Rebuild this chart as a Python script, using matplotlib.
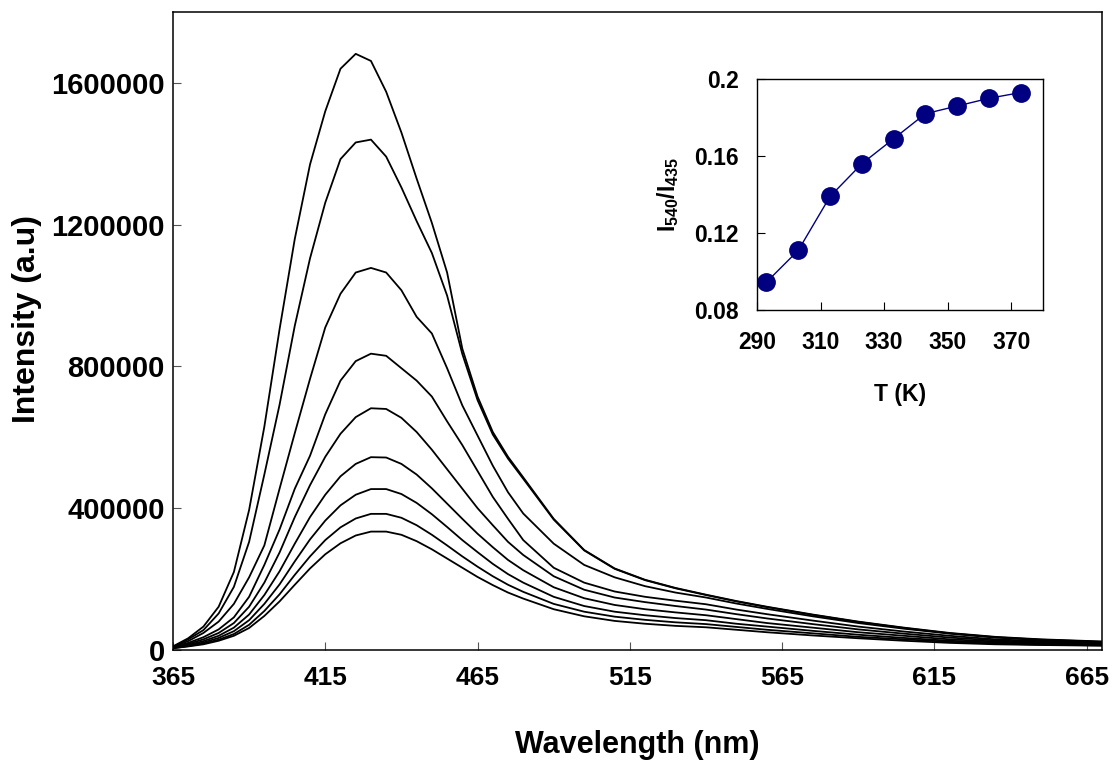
import matplotlib
matplotlib.use("Agg")
import matplotlib.pyplot as plt
from matplotlib.ticker import FixedLocator, FormatStrFormatter

plt.rcParams['font.family'] = ['Liberation Sans', 'DejaVu Sans']
plt.rcParams['font.weight'] = 'bold'
plt.rcParams['mathtext.fontset'] = 'custom'
plt.rcParams['mathtext.rm'] = 'Liberation Sans:bold'
plt.rcParams['mathtext.bf'] = 'Liberation Sans:bold'
plt.rcParams['mathtext.default'] = 'rm'

# emission spectra (intensity in units of 1000)
wavelength = [365, 370, 375, 380, 385, 390, 395, 400, 405, 410, 415, 420, 425,
              430, 435, 440, 445, 450, 455, 460, 465, 470, 475, 480, 490, 500,
              510, 520, 530, 540, 550, 560, 575, 590, 605, 620, 635, 650, 670]

spec_293 = [10, 33, 66, 122, 220, 395, 630, 905, 1160, 1370, 1520, 1640, 1682,
            1662, 1575, 1460, 1330, 1205, 1065, 850, 715, 615, 545, 487, 370, 282,
            230, 198, 175, 156, 138, 122, 100, 80, 63, 48, 37, 30, 24]
spec_303 = [9, 30, 56, 103, 178, 305, 495, 692, 915, 1105, 1262, 1385, 1432,
            1440, 1392, 1305, 1210, 1120, 1000, 835, 705, 608, 540, 483, 368, 281,
            229, 197, 174, 155, 137, 121, 99, 79, 62, 47, 36, 29, 23]
spec_313 = [9, 25, 48, 80, 130, 205, 295, 455, 612, 765, 910, 1005, 1065,
            1078, 1065, 1015, 940, 893, 795, 690, 605, 520, 445, 385, 300, 240,
            205, 180, 162, 148, 131, 116, 95, 76, 60, 46, 35, 28, 22]
spec_323 = [8, 20, 36, 58, 92, 150, 240, 340, 455, 548, 665, 760, 815,
            836, 830, 795, 760, 715, 645, 578, 505, 432, 370, 310, 232, 190,
            165, 150, 139, 129, 114, 101, 83, 66, 52, 40, 30, 25, 20]
spec_333 = [7, 17, 30, 48, 76, 122, 190, 275, 375, 465, 545, 610, 657,
            682, 680, 655, 615, 565, 510, 455, 400, 352, 305, 268, 208, 170,
            148, 135, 124, 114, 101, 89, 73, 58, 46, 35, 27, 22, 18]
spec_343 = [6, 14, 25, 40, 63, 100, 155, 222, 300, 375, 438, 490, 525,
            544, 543, 525, 495, 456, 413, 370, 328, 290, 254, 225, 177, 146,
            127, 115, 106, 98, 87, 76, 63, 50, 40, 30, 24, 19, 16]
spec_353 = [6, 12, 21, 34, 53, 84, 130, 185, 250, 312, 365, 408, 438,
            454, 454, 440, 415, 383, 347, 310, 276, 243, 214, 190, 150, 124,
            108, 98, 90, 84, 74, 66, 54, 43, 34, 26, 21, 17, 14]
spec_363 = [5, 11, 18, 29, 45, 71, 110, 157, 212, 264, 310, 346, 371,
            384, 384, 373, 352, 325, 295, 264, 235, 208, 184, 164, 130, 108,
            94, 85, 78, 73, 65, 57, 47, 37, 30, 23, 18, 15, 13]
spec_373 = [5, 10, 16, 26, 40, 62, 96, 137, 184, 230, 270, 301, 323,
            334, 334, 325, 307, 284, 258, 232, 206, 183, 162, 145, 115, 95,
            82, 74, 68, 64, 57, 50, 41, 33, 26, 20, 16, 14, 12]

spectra = [spec_293, spec_303, spec_313, spec_323, spec_333,
           spec_343, spec_353, spec_363, spec_373]

# inset: intensity ratio against temperature
temperature = [293, 303, 313, 323, 333, 343, 353, 363, 373]
ratio = [0.0945, 0.111, 0.139, 0.156, 0.169, 0.182, 0.186, 0.190, 0.193]

main_xticks = [365, 415, 465, 515, 565, 615, 665]
main_yticks = [0, 400000, 800000, 1200000, 1600000]
inset_xticks = [290, 310, 330, 350, 370]
inset_yticks = [0.08, 0.12, 0.16, 0.2]

fig = plt.figure(figsize=(11.13, 7.61), dpi=100)
ax = fig.add_axes([0.1554, 0.1459, 0.8347, 0.8383])

for spec in spectra:
    ax.plot(wavelength, [v * 1000 for v in spec], color='black', lw=1.3)

ax.set_xlim(365, 670)
ax.set_ylim(0, 1800000)
ax.xaxis.set_major_locator(FixedLocator(main_xticks))
ax.yaxis.set_major_locator(FixedLocator(main_yticks))
ax.yaxis.set_major_formatter(FormatStrFormatter('%d'))
ax.tick_params(direction='in', length=6, width=0.8, color='#555555')
ax.tick_params(axis='y', labelsize=21, pad=6)
ax.tick_params(axis='x', labelsize=19, pad=11.5)
for sp in ax.spines.values():
    sp.set_linewidth(1.1)

ax.set_ylabel('Intensity (a.u)', fontsize=23, fontweight='bold', va='center')
ax.yaxis.set_label_coords(-0.157, 0.519)
ax.set_xlabel('Wavelength (nm)', fontsize=22, fontweight='bold', va='center')
ax.xaxis.set_label_coords(0.5, -0.149)

# inset
ins = fig.add_axes([0.6801, 0.5926, 0.2570, 0.3035])
ins.plot(temperature, ratio, color='#000080', lw=1.0, marker='o',
         markersize=12.5, markerfacecolor='#000080', markeredgecolor='#000080')
ins.set_xlim(290, 380)
ins.set_ylim(0.08, 0.2)
ins.xaxis.set_major_locator(FixedLocator(inset_xticks))
ins.yaxis.set_major_locator(FixedLocator(inset_yticks))
ins.yaxis.set_major_formatter(FormatStrFormatter('%g'))
ins.tick_params(direction='in', length=5.5, width=0.8, labelsize=16.5)
ins.tick_params(axis='x', pad=15)
ins.tick_params(axis='y', pad=13)
for sp in ins.spines.values():
    sp.set_linewidth(1.0)
ins.set_xlabel('T (K)', fontsize=16.5, fontweight='bold', va='center')
ins.xaxis.set_label_coords(0.5, -0.364)
ins.set_ylabel(r'I$_{540}$/I$_{435}$', fontsize=16.5, fontweight='bold',
               va='center')
ins.yaxis.set_label_coords(-0.311, 0.5)

fig.savefig('out.png', dpi=100)
